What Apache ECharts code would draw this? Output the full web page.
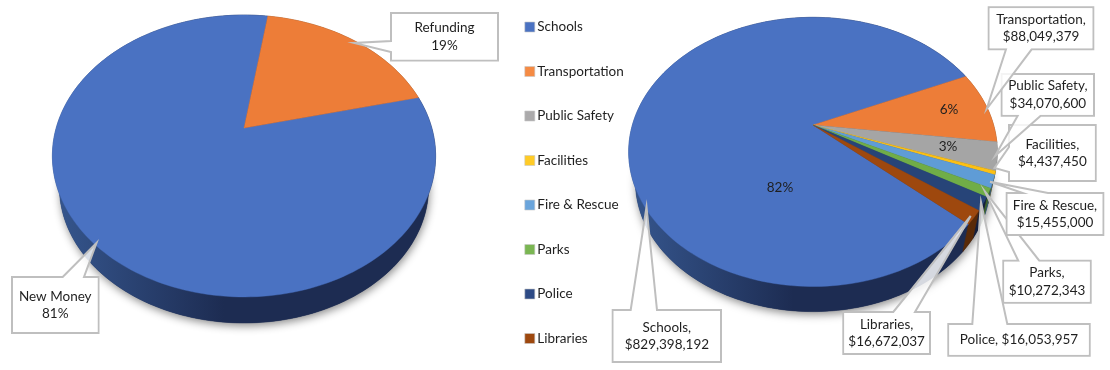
<!DOCTYPE html>
<html>
<head>
<meta charset="utf-8">
<style>html,body{margin:0;padding:0;background:#fff}#c{width:1110px;height:370px}</style>
<script src="https://cdn.jsdelivr.net/npm/echarts@6/dist/echarts.min.js"></script>
</head>
<body>
<div id="c"></div>
<script>
// ---- data ----
const typeNames = ['New Money', 'Refunding'];
const typeValues = [81.2, 18.8];
const typeColors = ['#4a72c2', '#ed7d38'];
const projectNames = ['Schools', 'Transportation', 'Public Safety', 'Facilities', 'Fire & Rescue', 'Parks', 'Police', 'Libraries'];
const projectValues = [829398192, 88049379, 34070600, 4437450, 15455000, 10272343, 16053957, 16672037];
const projectPctLabels = ['82%', '6%', '3%'];
const projectColors = ['#4a72c2', '#ed7d38', '#a5a5a5', '#fdc012', '#5f9cd6', '#70ad47', '#274478', '#9e480e'];
const legendSwatches = ['#4a72c2', '#f58b44', '#abaaab', '#ffcb26', '#6aa5dc', '#7ab652', '#2d4a85', '#9e480e'];
const wallColors = ['#1d2c52', '#8a4a1e', '#606060', '#8a6c08', '#33587c', '#3f6428', '#141f3c', '#592a08'];

// ---- layout ----
const FONT = 'Lato, "Open Sans", sans-serif';
const leftPie = {x0: 244, y0: 128, a: 187.8, b: 135.4, k: 0.1986, s: 0.9635, dy: 32.2, start: 76.4, wallLeft: 51, wallRight: 435};
const rightPie = {x0: 813, y0: 125, a: 180.6, b: 129.2, k: 0.2, s: 0.9635, dy: 31, start: 131.7, wallLeft: 627, wallRight: 997};

// box: [left, top, right, bottom], side the pointer leaves from, pointer base [from, to], tip [x, y]
const callouts = [
  {lines: [typeNames[1], Math.round(typeValues[1]) + '%'], box: [391, 13, 498, 60.5], side: 'left', base: [41, 52], tip: [354, 43]},
  {lines: [typeNames[0], Math.round(typeValues[0]) + '%'], box: [12, 277, 98.5, 333], side: 'top', base: [62.7, 84], tip: [96.5, 243]},
  {idx: 7, box: [843.3, 312, 930, 354], side: 'top', base: [893.3, 915], tip: [970.7, 216]},
  {idx: 0, box: [612.7, 310, 721, 362], side: 'top', base: [630.7, 657], tip: [646.5, 207]},
  {idx: 6, oneLine: true, box: [948.3, 324, 1089.7, 355.7], side: 'top', base: [972.3, 1007.3], tip: [981, 202]},
  {idx: 5, box: [1003.3, 260.7, 1090.7, 302.7], side: 'top', base: [1018.3, 1039.3], tip: [985, 191.7]},
  {idx: 4, box: [1006.7, 193, 1103.3, 235], side: 'top', base: [1022.7, 1048], tip: [990, 181.7]},
  {idx: 3, box: [1009, 125, 1095.7, 181], side: 'left', base: [147, 172], tip: [994.5, 168]},
  {idx: 2, box: [1001.7, 74, 1094, 115.7], side: 'bottom', base: [1017.7, 1040.7], tip: [995, 156]},
  {idx: 1, box: [988.7, 7.3, 1093.3, 49.3], side: 'bottom', base: [1006, 1031.7], tip: [986.7, 109]}
];
const pctPositions = [[780, 188], [949, 110], [948, 147]];

// ---- projection of a flat pie seen in perspective ----
function rimPoint(p, deg, lower) {
  const t = deg * Math.PI / 180, u = Math.sin(t), v = -Math.cos(t), w = 1 - p.k * v;
  const s = lower ? p.s : 1, d = lower ? p.dy : 0;
  return [p.x0 + s * p.a * u / w, p.y0 + d + s * p.b * v / w];
}
function arc(p, from, to, lower) {
  const pts = [], n = Math.max(2, Math.ceil(Math.abs(to - from) / 1.5));
  for (let i = 0; i <= n; i++) pts.push(rimPoint(p, from + (to - from) * i / n, lower));
  return pts;
}
function spans(values, start) {
  const total = values.reduce((a, b) => a + b, 0);
  let at = start;
  return values.map(v => { const from = at; at += v / total * 360; return [from, at]; });
}

function wallSeries(id, p, values, cols, first) {
  const sp = spans(values, p.start);
  return {
    type: 'custom', id: id, name: id, coordinateSystem: 'none', z: 1, silent: true,
    data: values.map(v => [v]),
    renderItem(params) {
      const i = params.dataIndex, [a, b] = sp[i], children = [];
      if (i === 0) children.push({
        type: 'polygon', shape: {points: arc(p, 0, 360, true)},
        style: {fill: first, shadowBlur: 9, shadowOffsetX: 1, shadowOffsetY: 3, shadowColor: 'rgba(0,0,0,0.45)'}
      });
      const fill = i === 0 ? {
        type: 'linear', x: p.wallLeft, y: 0, x2: p.wallRight, y2: 0, global: true,
        colorStops: [{offset: 0, color: '#36578f'}, {offset: 0.45, color: first}, {offset: 1, color: first}]
      } : cols[i];
      children.push({
        type: 'polygon',
        shape: {points: arc(p, a, b, false).concat(arc(p, a, b, true).reverse())},
        style: {fill: fill, stroke: fill, lineWidth: 0.5}
      });
      return {type: 'group', children: children};
    }
  };
}
function topSeries(name, p, sp, i, color, value) {
  return {
    type: 'custom', name: name, coordinateSystem: 'none', z: 2, silent: true,
    itemStyle: {color: color},
    data: [[value]],
    renderItem() {
      return {
        type: 'polygon',
        shape: {points: [[p.x0, p.y0]].concat(arc(p, sp[i][0], sp[i][1], false))},
        style: {fill: color, stroke: color, lineWidth: 0.4}
      };
    }
  };
}

const leftSpans = spans(typeValues, leftPie.start);
const rightSpans = spans(projectValues, rightPie.start);
const series = [
  wallSeries('leftWalls', leftPie, typeValues, ['#1d2c52', '#8a4a1e'], '#1d2c52'),
  wallSeries('rightWalls', rightPie, projectValues, wallColors, '#1d2c52')
];
typeNames.forEach((n, i) => series.push(topSeries(n, leftPie, leftSpans, i, typeColors[i], typeValues[i])));
projectNames.forEach((n, i) => series.push(topSeries(n, rightPie, rightSpans, i, projectColors[i], projectValues[i])));

// ---- callouts and labels ----
const money = v => '$' + v.toLocaleString('en-US');
const graphics = [];
callouts.forEach((c, n) => {
  const [l, t, r, b] = c.box, [p, q] = c.base;
  let pts;
  if (c.side === 'top') pts = [[l, t], [p, t], c.tip, [q, t], [r, t], [r, b], [l, b]];
  else if (c.side === 'bottom') pts = [[l, t], [r, t], [r, b], [q, b], c.tip, [p, b], [l, b]];
  else pts = [[l, t], [r, t], [r, b], [l, b], [l, q], c.tip, [l, p]];
  let text;
  if (c.lines) text = c.lines.join('\n');
  else if (c.oneLine) text = projectNames[c.idx] + ', ' + money(projectValues[c.idx]);
  else text = projectNames[c.idx] + ',\n' + money(projectValues[c.idx]);
  graphics.push({
    type: 'polygon', z: 10 + n, silent: true, shape: {points: pts},
    style: {fill: 'rgba(255,255,255,0.82)', stroke: '#bfbfbf', lineWidth: 2, lineJoin: 'miter'}
  });
  graphics.push({
    type: 'rect', z: 10 + n, silent: true, shape: {x: l + 1, y: t + 1, width: r - l - 2, height: b - t - 2},
    style: {fill: '#fff'}
  });
  graphics.push({
    type: 'text', z: 10 + n, silent: true, x: (l + r) / 2, y: (t + b) / 2,
    style: {text: text, font: '13.5px ' + FONT, fill: '#1f1f1f', align: 'center', verticalAlign: 'middle', lineHeight: 17.5}
  });
});
pctPositions.forEach((pos, i) => graphics.push({
  type: 'text', z: 9, silent: true, x: pos[0], y: pos[1],
  style: {text: projectPctLabels[i], font: '13.5px ' + FONT, fill: '#1f1f1f', align: 'center', verticalAlign: 'middle'}
}));

const chart = echarts.init(document.getElementById('c'), null, {renderer: 'canvas'});
chart.setOption({
  animation: false,
  backgroundColor: '#fff',
  color: legendSwatches,
  legend: {
    orient: 'vertical', left: 524.5, top: 20, padding: 0, itemWidth: 10, itemHeight: 10, itemGap: 30.5,
    icon: 'rect', selectedMode: false,
    data: projectNames.map((n, i) => ({name: n, itemStyle: {color: legendSwatches[i], borderColor: '#c8c8c8', borderWidth: 0.6}})),
    textStyle: {fontFamily: FONT, fontSize: 13.5, color: '#1f1f1f', lineHeight: 14, padding: [0, 0, 0, -2.5]}
  },
  series: series,
  graphic: {elements: graphics}
});
</script>
</body>
</html>
